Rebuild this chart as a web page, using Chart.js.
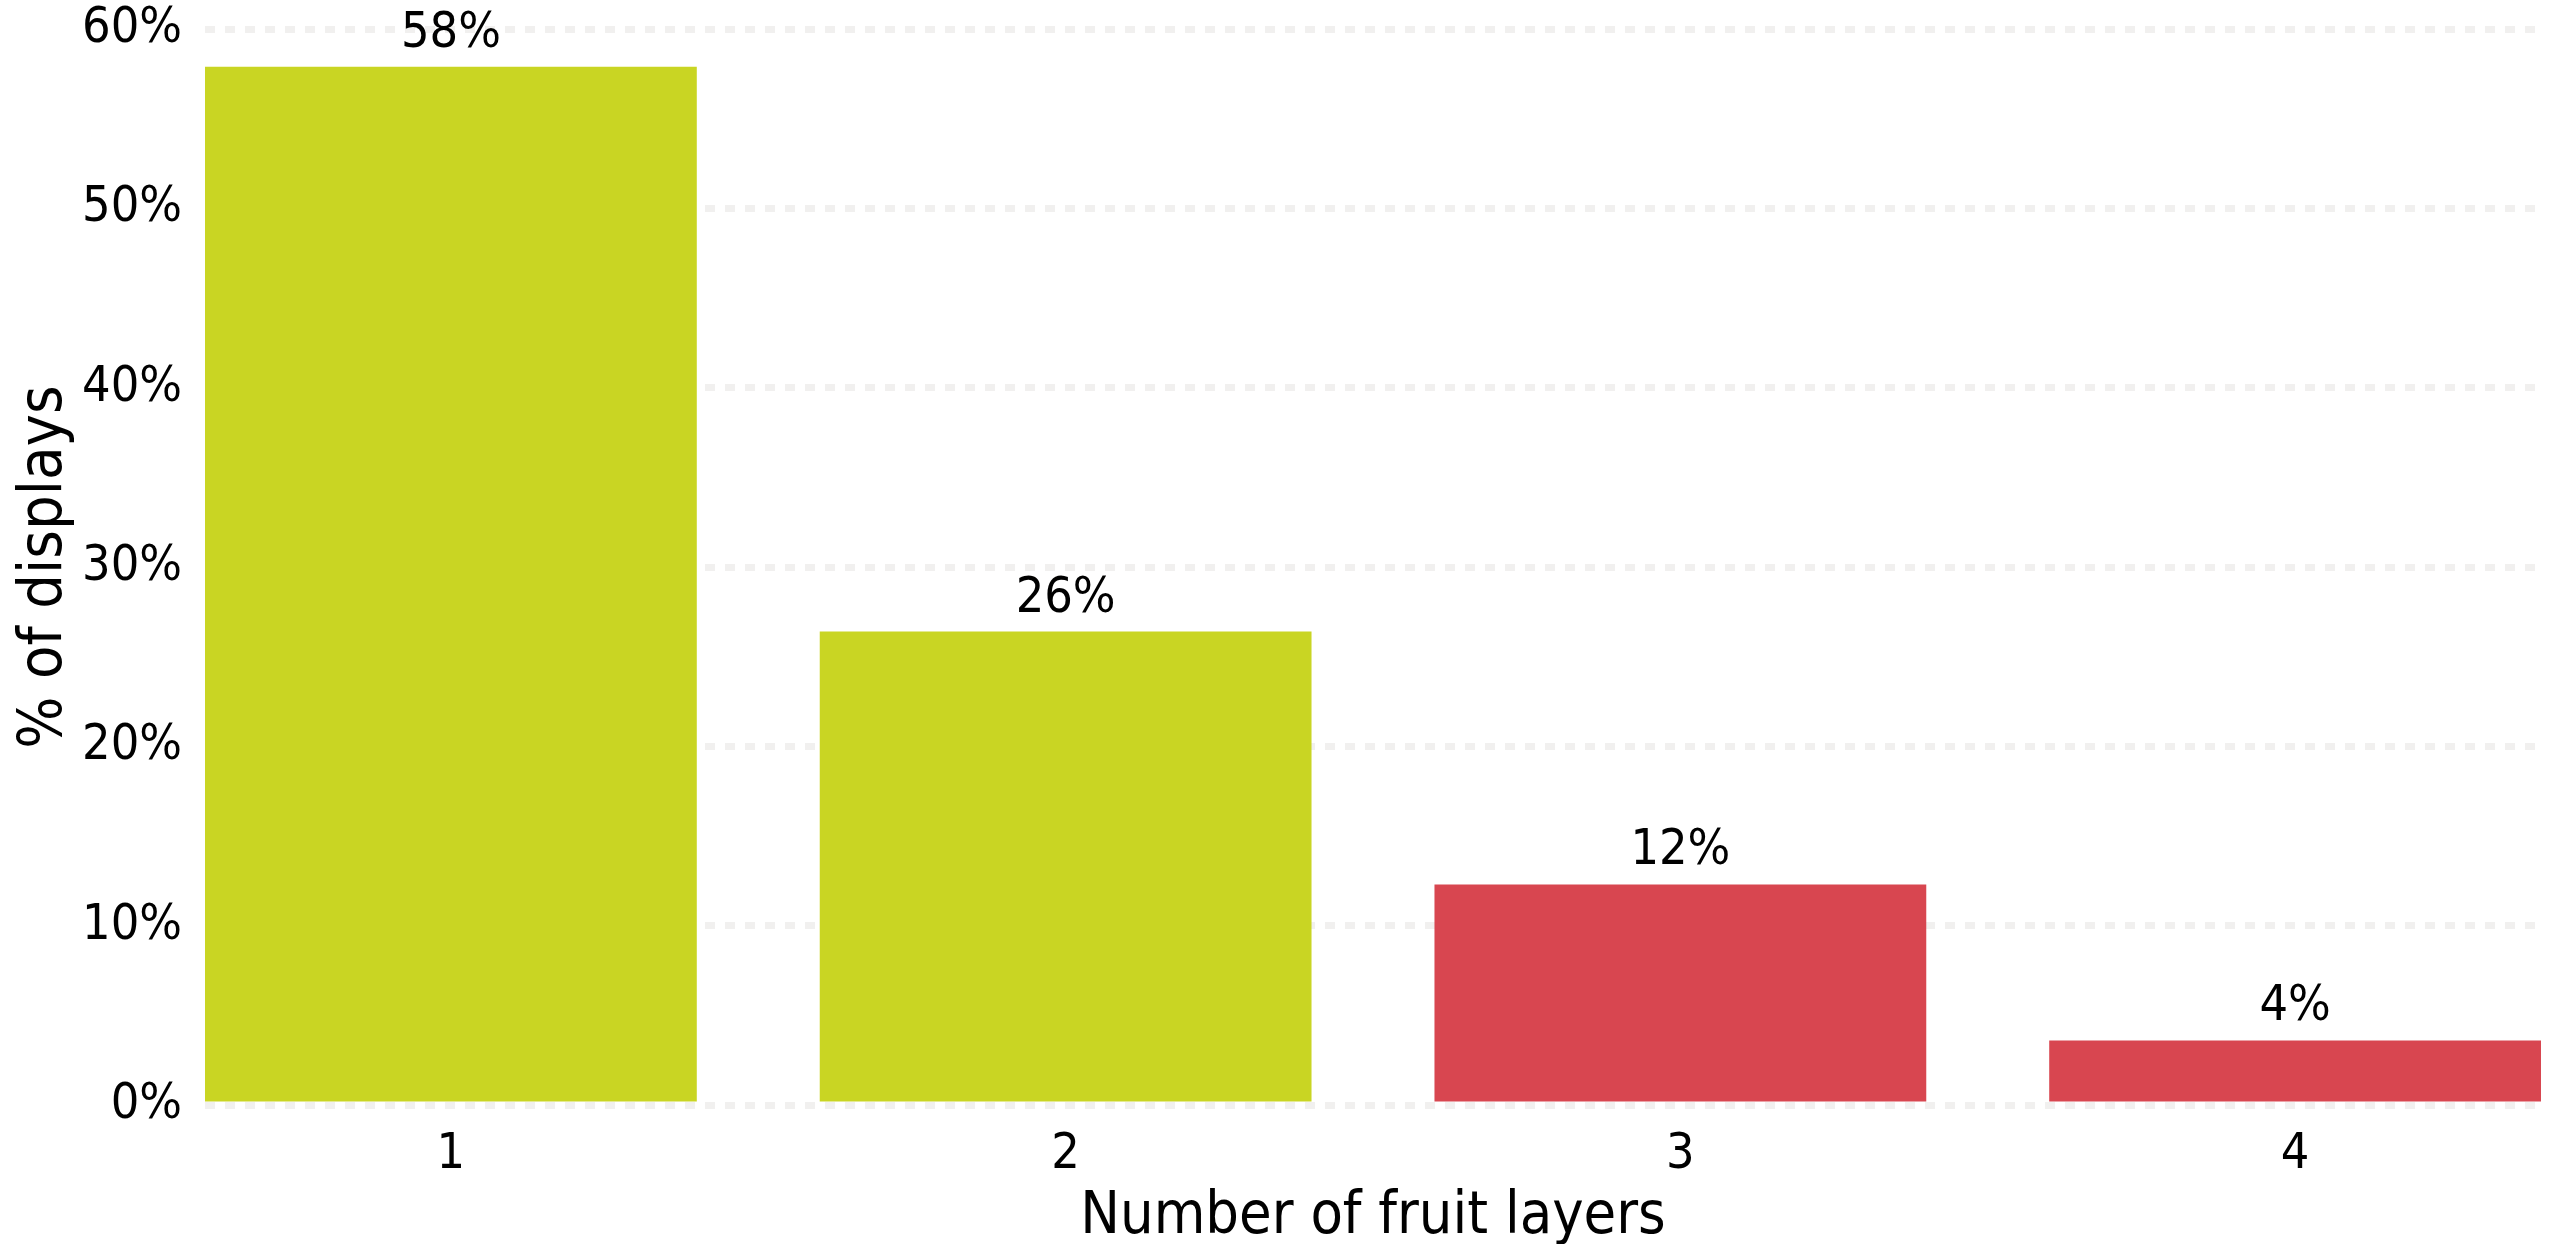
<!DOCTYPE html>
<html>
<head>
<meta charset="utf-8">
<title>Number of fruit layers</title>
<script src="https://cdn.jsdelivr.net/npm/chart.js@4"></script>
<style>
    html, body { margin: 0; padding: 0; background: #ffffff; }
    #wrap { width: 2552px; height: 1244px; position: relative; }
</style>
</head>
<body>
<div id="wrap"><canvas id="layersChart"></canvas></div>
<script>
// Data
const categories = ['1', '2', '3', '4'];
const shares = [57.9, 26.4, 12.3, 3.6];   // % of displays
const yTicks = [0, 10, 20, 30, 40, 50, 60];
const barColors = ['#c9d523', '#c9d523', '#d84650', '#d84650'];

const FONT = '"DejaVu Sans Condensed", "DejaVu Sans"';

// --- Value labels above bars ---
const barLabels = {
    id: 'barLabels',
    afterDatasetsDraw(chart) {
        const ctx = chart.ctx;
        const meta = chart.getDatasetMeta(0);
        ctx.save();
        ctx.font = '50px ' + FONT;
        ctx.fillStyle = '#000000';
        ctx.textAlign = 'center';
        ctx.textBaseline = 'middle';
        meta.data.forEach((bar, i) => {
            ctx.fillText(Math.round(shares[i]) + '%', bar.x, bar.y - 33);
        });
        ctx.restore();
    }
};

const ctx = document.getElementById('layersChart').getContext('2d');

new Chart(ctx, {
    type: 'bar',
    data: {
        datasets: [{
            data: shares.map((v, i) => ({ x: i + 1, y: v })),
            backgroundColor: barColors,
            borderWidth: 0,
            categoryPercentage: 0.8,
            barPercentage: 1.0
        }]
    },
    options: {
        responsive: true,
        maintainAspectRatio: false,
        animation: false,
        layout: { padding: { top: 29, right: 11, left: 0, bottom: 0 } },
        plugins: { legend: { display: false }, tooltip: { enabled: false } },
        scales: {
            x: {
                type: 'linear',
                min: 0.6,
                max: 4.4,
                offset: false,
                grid: { display: false, drawTicks: false },
                border: { display: false },
                ticks: {
                    stepSize: 1,
                    includeBounds: false,
                    padding: 20,
                    color: '#000000',
                    font: { family: FONT, size: 50 },
                    callback: (v) => categories[v - 1]
                },
                title: {
                    display: true,
                    text: 'Number of fruit layers',
                    color: '#000000',
                    font: { family: FONT, size: 59, lineHeight: 0.9 },
                    padding: { top: 0, bottom: 0 }
                },
                afterFit: (scale) => { scale.height = 139; }
            },
            y: {
                min: 0,
                max: 60,
                grid: {
                    color: '#f1f0ef',
                    lineWidth: 7,
                    drawTicks: false
                },
                border: { display: false, dash: [10, 10] },
                ticks: {
                    padding: 23,
                    color: '#000000',
                    // small lineHeight keeps the top label from pushing the plot down
                    font: { family: FONT, size: 50, lineHeight: 0.2 },
                    callback: (v) => v + '%'
                },
                afterBuildTicks: (scale) => { scale.ticks = yTicks.map(v => ({ value: v })); },
                title: {
                    display: true,
                    text: '% of displays',
                    color: '#000000',
                    font: { family: FONT, size: 61, lineHeight: 1 },
                    padding: { top: 15, bottom: 0 }
                },
                afterFit: (scale) => { scale.width = 205; }
            }
        }
    },
    plugins: [barLabels]
});
</script>
</body>
</html>
